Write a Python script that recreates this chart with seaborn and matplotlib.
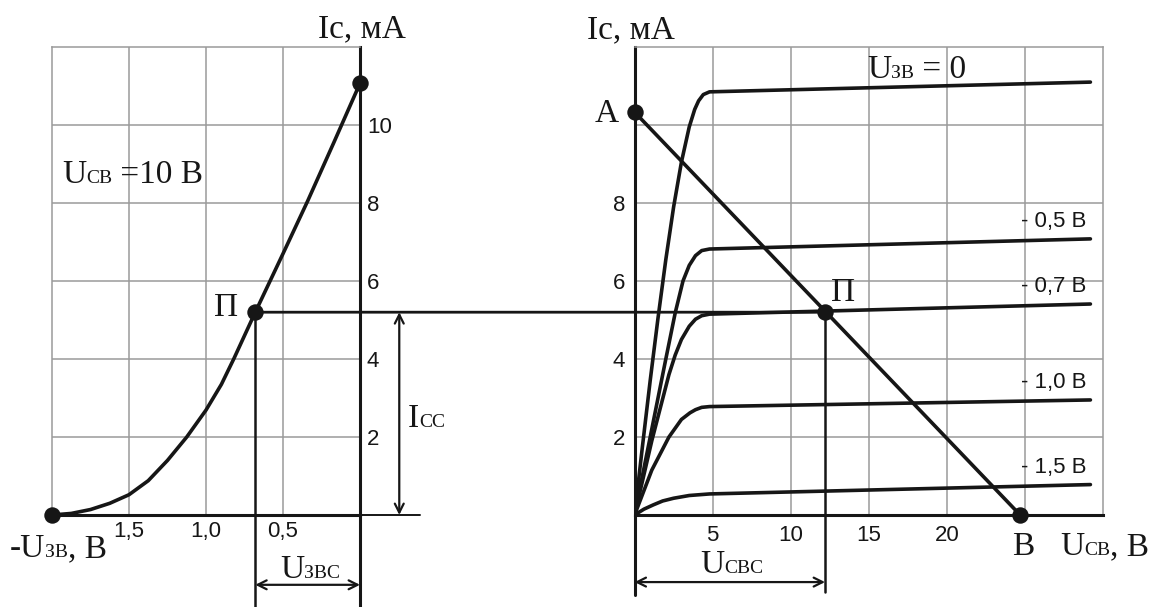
import numpy as np
import pandas as pd
import matplotlib
matplotlib.use("Agg")
import matplotlib.pyplot as plt
import matplotlib.transforms as mtrans
from matplotlib.patches import ConnectionPatch
import seaborn as sns

# ---- transfer characteristic  Ic = f(Uзв) at Uсв = 10 В ----
ugs_transfer = [-2.0, -1.875, -1.75, -1.625, -1.5, -1.375, -1.25, -1.125, -1.0,
                -0.9, -0.82, -0.75, -0.68, -0.5, -0.34, -0.17, 0.0]
id_transfer = [0.0, 0.04, 0.14, 0.3, 0.52, 0.88, 1.4, 2.0, 2.69,
               3.35, 4.0, 4.6, 5.2, 6.7, 8.05, 9.55, 11.07]

# ---- output characteristics  Ic = f(Uсв) for several Uзв ----
gate_labels = ["0", "- 0,5 В", "- 0,7 В", "- 1,0 В", "- 1,5 В"]
uds_g0 = [0, 0.5, 1.0, 1.5, 2.0, 2.5, 3.0, 3.5, 3.85, 4.1, 4.4, 4.8, 29.2]
id_g0 = [0, 1.75, 3.45, 5.05, 6.55, 7.9, 9.05, 9.95, 10.4, 10.62, 10.78, 10.85, 11.1]
uds_g05 = [0, 1.0, 2.0, 2.6, 3.1, 3.5, 3.9, 4.3, 4.8, 29.2]
id_g05 = [0, 2.0, 4.0, 5.18, 6.0, 6.4, 6.65, 6.78, 6.82, 7.08]
uds_g07 = [0, 1.1, 2.2, 2.6, 3.0, 3.5, 3.9, 4.3, 4.8, 29.2]
id_g07 = [0, 1.9, 3.6, 4.1, 4.5, 4.84, 5.02, 5.11, 5.15, 5.41]
uds_g10 = [0, 1.1, 2.2, 3.0, 3.55, 3.9, 4.3, 4.8, 29.2]
id_g10 = [0, 1.15, 2.0, 2.45, 2.62, 2.7, 2.76, 2.78, 2.95]
uds_g15 = [0, 0.6, 1.2, 1.8, 2.5, 3.5, 4.8, 29.2]
id_g15 = [0, 0.15, 0.26, 0.36, 0.43, 0.5, 0.54, 0.78]

# ---- load line A-B and operating point П ----
load_a_id = 10.33      # mA at Uсв = 0
load_b_uds = 24.7      # V at Ic = 0
q_ugs = -0.68          # V
q_id = 5.2             # mA
q_uds = 12.2           # V

# tick labels
left_xticks = [-1.5, -1.0, -0.5]
left_xticklabels = ["1,5", "1,0", "0,5"]
left_yticks = [2, 4, 6, 8, 10]
left_yticklabels = ["2", "4", "6", "8", "10"]
right_xticks = [5, 10, 15, 20, 25]
right_xticklabels = ["5", "10", "15", "20", ""]
right_yticks = [2, 4, 6, 8, 10]
right_yticklabels = ["2", "4", "6", "8", ""]

sns.set_theme(style="white")
plt.rcParams["font.family"] = ["Liberation Sans", "DejaVu Sans"]

W, H = 1156, 607
fig = plt.figure(figsize=(W / 100, H / 100), dpi=100)
fig.patch.set_facecolor("white")

GRID = "#9a9a9a"
INK = "#161616"
SERIF = ["Liberation Serif", "DejaVu Serif"]
TICK_SIZE = 16


def ax_rect(x0, x1, y_top, y_bot):
    return [x0 / W, 1 - y_bot / H, (x1 - x0) / W, (y_bot - y_top) / H]


ax1 = fig.add_axes(ax_rect(52, 360, 47, 515))
ax2 = fig.add_axes(ax_rect(634.6, 1102.9, 47, 515))

# ---- curves ----
sns.lineplot(x=ugs_transfer, y=id_transfer, color=INK, lw=2.6, sort=False,
             ax=ax1, solid_capstyle="round", solid_joinstyle="round")

out_curves = [(uds_g0, id_g0), (uds_g05, id_g05), (uds_g07, id_g07),
              (uds_g10, id_g10), (uds_g15, id_g15)]
frames = []
for lab, (u, i) in zip(gate_labels, out_curves):
    frames.append(pd.DataFrame({"uds": u, "id": i, "gate": lab}))
df_out = pd.concat(frames, ignore_index=True)
sns.lineplot(data=df_out, x="uds", y="id", units="gate", estimator=None,
             sort=False, color=INK, lw=2.6, ax=ax2,
             solid_capstyle="round", solid_joinstyle="round")

# load line
sns.lineplot(x=[0, load_b_uds], y=[load_a_id, 0], color=INK, lw=2.6, ax=ax2,
             solid_capstyle="round")

for ax in (ax1, ax2):
    ax.set_facecolor("white")
    ax.set_ylim(0, 12)
    ax.grid(True, color=GRID, lw=1.1)
    ax.set_axisbelow(True)
    ax.tick_params(length=0, labelsize=TICK_SIZE, colors=INK)

ax1.set_xlim(-2, 0)
ax2.set_xlim(0, 30)

# left panel axes styling
ax1.set_xticks(left_xticks, left_xticklabels)
ax1.set_yticks(left_yticks, left_yticklabels)
ax1.yaxis.tick_right()
ax1.tick_params(axis="y", pad=5)
ax1.tick_params(axis="x", pad=4)
for side in ("left", "top"):
    ax1.spines[side].set_color(GRID)
    ax1.spines[side].set_linewidth(1.1)
for side in ("right", "bottom"):
    ax1.spines[side].set_color(INK)
    ax1.spines[side].set_linewidth(2.2)

# right panel axes styling
ax2.set_xticks(right_xticks, right_xticklabels)
ax2.set_yticks(right_yticks, right_yticklabels)
ax2.tick_params(axis="y", pad=7)
ax2.tick_params(axis="x", pad=7)
for side in ("right", "top"):
    ax2.spines[side].set_color(GRID)
    ax2.spines[side].set_linewidth(1.1)
for side in ("left", "bottom"):
    ax2.spines[side].set_color(INK)
    ax2.spines[side].set_linewidth(2.2)

# ---- construction lines (drawn outside the plotting area too) ----
y_bottom_left = -2.36
ax1.plot([0, 0], [0, y_bottom_left], color=INK, lw=2.2, clip_on=False)
ax1.plot([0, 0.39], [0, 0], color=INK, lw=1.4, clip_on=False)
ax1.plot([q_ugs, q_ugs], [q_id, y_bottom_left], color=INK, lw=1.8, clip_on=False)
ax1.annotate("", xy=(q_ugs, -1.79), xytext=(0, -1.79),
             arrowprops=dict(arrowstyle="<->", lw=1.6, color=INK,
                             shrinkA=0, shrinkB=0, mutation_scale=16),
             annotation_clip=False)
ax1.annotate("", xy=(0.255, 0), xytext=(0.255, q_id),
             arrowprops=dict(arrowstyle="<->", lw=1.6, color=INK,
                             shrinkA=0, shrinkB=0, mutation_scale=16),
             annotation_clip=False)

ax2.plot([0, 0], [0, -2.05], color=INK, lw=2.2, clip_on=False)
ax2.plot([q_uds, q_uds], [q_id, -1.97], color=INK, lw=1.8, clip_on=False)
ax2.annotate("", xy=(q_uds, -1.72), xytext=(0, -1.72),
             arrowprops=dict(arrowstyle="<->", lw=1.6, color=INK,
                             shrinkA=0, shrinkB=0, mutation_scale=16),
             annotation_clip=False)

# horizontal line joining both operating points
con = ConnectionPatch(xyA=(q_ugs, q_id), coordsA=ax1.transData,
                      xyB=(q_uds, q_id), coordsB=ax2.transData,
                      color=INK, lw=2.0)
fig.add_artist(con)

# ---- points ----
sns.scatterplot(x=[ugs_transfer[0], 0, q_ugs], y=[0, id_transfer[-1], q_id],
                s=140, color=INK, linewidth=0, ax=ax1, clip_on=False, zorder=5)
sns.scatterplot(x=[0, q_uds, load_b_uds], y=[load_a_id, q_id, 0],
                s=140, color=INK, linewidth=0, ax=ax2, clip_on=False, zorder=5)
for ax in (ax1, ax2):
    ax.set_xlabel("")
    ax.set_ylabel("")

# ---- gate-voltage labels on the output curves ----
for lab, (u, i) in zip(gate_labels[1:], out_curves[1:]):
    ax2.annotate(lab, xy=(24.75, i[-1]), xytext=(0, 12), textcoords="offset pixels",
                 fontsize=16, color=INK, va="baseline", ha="left",
                 annotation_clip=False)

# ---- serif labels with small-capital subscripts ----
renderer = fig.canvas.get_renderer()
BIG, SMALL = 24, 14


def rich_text(x_px, base_px, parts):
    dx = 0.0
    for s, size in parts:
        tr = mtrans.offset_copy(fig.transFigure, fig=fig, x=dx, y=0, units="dots")
        t = fig.text(x_px / W, 1 - base_px / H, s, fontsize=size, family=SERIF,
                     color=INK, va="baseline", ha="left", transform=tr)
        dx += t.get_window_extent(renderer).width


rich_text(318, 37, [("Iс, мА", BIG)])
rich_text(587, 38, [("Iс, мА", BIG)])
rich_text(62, 183, [("U", BIG), ("СВ", SMALL), (" =10 В", BIG)])
rich_text(214, 316, [("П", BIG)])
rich_text(831, 301, [("П", BIG)])
rich_text(595, 122, [("А", BIG)])
rich_text(1012, 555, [("В", BIG)])
rich_text(10, 557, [("-U", BIG), ("ЗВ", SMALL), (", В", BIG)])
rich_text(1060, 555, [("U", BIG), ("СВ", SMALL), (", В", BIG)])
rich_text(280, 578, [("U", BIG), ("ЗВС", SMALL)])
rich_text(700, 573, [("U", BIG), ("СВС", SMALL)])
rich_text(408, 427, [("I", BIG), ("СС", SMALL)])
rich_text(867, 78, [("U", BIG), ("ЗВ", SMALL), (" = 0", BIG)])

fig.savefig("out.png", dpi=100, facecolor="white")
